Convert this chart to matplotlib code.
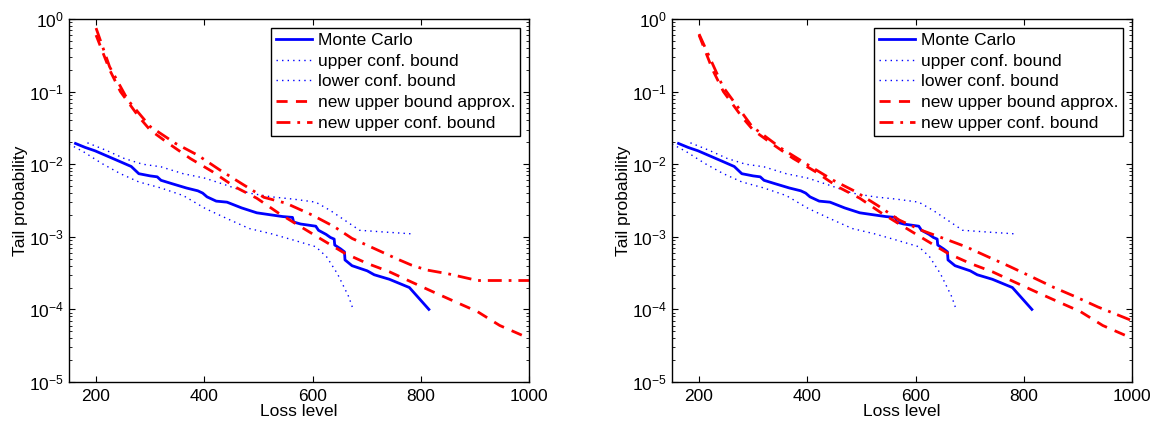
import matplotlib
matplotlib.use("Agg")
import matplotlib.pyplot as plt

plt.rcParams['font.family'] = ['Liberation Sans', 'DejaVu Sans']
plt.rcParams['mathtext.fontset'] = 'custom'
plt.rcParams['mathtext.rm'] = 'Liberation Sans'
plt.rcParams['font.size'] = 12.5

# Monte Carlo estimate (same in both panels)
mc_x = [162, 180, 198, 220, 245, 265, 279, 300, 313, 320, 340, 367, 388, 397, 405, 422,
        442, 469, 497, 524, 545, 563, 565, 578, 606, 611, 625, 633, 640, 641, 652, 659,
        660, 673, 701, 714, 742, 779, 815]
mc_y = [0.0193, 0.017, 0.0153, 0.013, 0.0108, 0.0093, 0.0074, 0.0069, 0.0067, 0.006,
        0.0054, 0.0047, 0.0043, 0.004, 0.00355, 0.0031, 0.003, 0.0025, 0.00214, 0.002,
        0.0019, 0.00185, 0.0016, 0.0015, 0.0014, 0.00123, 0.00108, 0.00098, 0.00093,
        0.00077, 0.00068, 0.00062, 0.00048, 0.0004, 0.00034, 0.0003, 0.00026, 0.0002, 0.0001]

# confidence bounds of the Monte Carlo estimate
up_x = [184, 218, 252, 286, 320, 361, 402, 442, 483, 524, 565, 606, 633, 667, 687, 728, 782]
up_y = [0.0197, 0.0156, 0.012, 0.010, 0.0092, 0.0074, 0.0064, 0.0051, 0.0040, 0.00355,
        0.0033, 0.003, 0.0023, 0.00155, 0.00123, 0.00117, 0.0011]
lo_x = [150, 177, 211, 245, 279, 320, 361, 402, 442, 483, 524, 565, 606, 626, 646, 667, 675]
lo_y = [0.019, 0.0148, 0.0102, 0.0074, 0.0057, 0.0047, 0.0037, 0.00245, 0.00178, 0.0013,
        0.0011, 0.0009, 0.00073, 0.00053, 0.00031, 0.000149, 0.0001]

# new upper bound approximation (same in both panels)
nb_x = [200, 211, 225, 245, 259, 279, 300, 334, 374, 415, 456, 497, 538, 578, 619, 660,
        701, 742, 782, 823, 864, 905, 946, 1000]
nb_y = [0.6, 0.37, 0.2, 0.1, 0.072, 0.045, 0.0295, 0.0193, 0.012, 0.0079, 0.0049, 0.0034,
        0.0021, 0.00138, 0.0009, 0.00059, 0.00043, 0.00033, 0.00024, 0.000174, 0.000127,
        0.000093, 0.00006, 0.00004]

# new upper confidence bound, left panel
cb1_x = [200, 225, 259, 300, 347, 388, 429, 469, 510, 551, 599, 640, 673, 714, 755, 782,
         810, 850, 905, 1000]
cb1_y = [0.75, 0.22, 0.076, 0.033, 0.0193, 0.0133, 0.0083, 0.0054, 0.0035, 0.0029, 0.002,
         0.00138, 0.00095, 0.00069, 0.0005, 0.00041, 0.00035, 0.00031, 0.00025, 0.00025]

# new upper confidence bound, right panel
cb2_x = [200, 244, 298, 352, 407, 448, 489, 530, 570, 611, 652, 693, 734, 774, 815, 856,
         896, 937, 1000]
cb2_y = [0.62, 0.117, 0.033, 0.0165, 0.0092, 0.006, 0.0042, 0.0027, 0.0017, 0.00123,
         0.00095, 0.00073, 0.00053, 0.00039, 0.00028, 0.0002, 0.000149, 0.000108, 0.00007]

fig = plt.figure(figsize=(11.52, 4.25), dpi=100)
ax1 = fig.add_axes([69 / 1152, 43 / 425, 460 / 1152, 363 / 425])
ax2 = fig.add_axes([672 / 1152, 43 / 425, 460 / 1152, 363 / 425])

for ax, cbx, cby in [(ax1, cb1_x, cb1_y), (ax2, cb2_x, cb2_y)]:
    ax.semilogy(mc_x, mc_y, color='b', lw=2, label='Monte Carlo')
    ax.semilogy(up_x, up_y, color='b', lw=1, ls=(0, (1, 3)), label='upper conf. bound')
    ax.semilogy(lo_x, lo_y, color='b', lw=1, ls=(0, (1, 3)), label='lower conf. bound')
    ax.semilogy(nb_x, nb_y, color='r', lw=2, ls=(0, (4, 3)), label='new upper bound approx.')
    ax.semilogy(cbx, cby, color='r', lw=2, ls=(0, (5, 2.5, 1, 2.5)), label='new upper conf. bound')
    ax.set_xlim(150, 1000)
    ax.set_ylim(1e-5, 1)
    ax.set_xticks([200, 400, 600, 800, 1000])
    ax.set_xlabel('Loss level', labelpad=0)
    ax.set_ylabel('Tail probability', labelpad=1)
    ax.tick_params(which='both', direction='in', top=True, right=True, labelsize=12.5)
    ax.tick_params(axis='x', pad=5)
    ax.tick_params(which='major', length=4)
    ax.tick_params(which='minor', length=2)
    for s in ax.spines.values():
        s.set_linewidth(1.0)
    leg = ax.legend(loc='upper right', fancybox=False, framealpha=1, edgecolor='k',
                    fontsize=12.5, handlelength=2.1, handletextpad=0.3, labelspacing=0.32,
                    borderpad=0.3, borderaxespad=0.5)
    leg.get_frame().set_linewidth(1.0)

fig.savefig('out.png', dpi=100)
